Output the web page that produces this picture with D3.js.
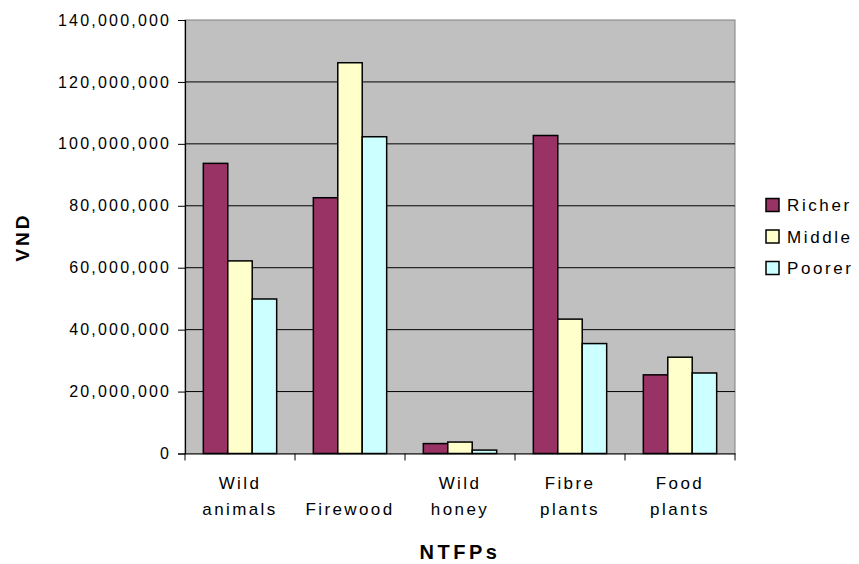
<!DOCTYPE html>
<html><head><meta charset="utf-8">
<script src="https://cdn.jsdelivr.net/npm/d3@7"></script>
<style>
html,body{margin:0;padding:0;background:#fff;}
svg{display:block;font-family:"Liberation Sans",Arial,sans-serif;}
</style></head>
<body><svg id="chart" width="859" height="564"></svg>
<script>
const categories = [["Wild","animals"],["Firewood"],["Wild","honey"],["Fibre","plants"],["Food","plants"]];
const seriesNames = ["Richer","Middle","Poorer"];
const richer = [93700000, 82600000, 3200000, 102700000, 25400000];
const middle = [62200000, 126200000, 3700000, 43400000, 31100000];
const poorer = [49900000, 102300000, 1100000, 35500000, 26000000];
const yTicks = [0,20000000,40000000,60000000,80000000,100000000,120000000,140000000];
const colors = ["#993366","#FFFFCC","#CCFFFF"];

(function(){
const values = [richer, middle, poorer];
const svg = d3.select("#chart");
const pL = 185, pR = 735, pT = 20, pB = 453.5;
const catKeys = categories.map(c => c.join(" "));

const x = d3.scaleBand().domain(catKeys).range([pL, pR]).padding(0);
const bw = x.bandwidth();
const xs = d3.scaleBand().domain(seriesNames).range([bw/6, bw*5/6]).padding(0);
const y = d3.scaleLinear().domain([0, 140000000]).range([pB, pT]);

// plot area
svg.append("rect").attr("x", pL).attr("y", pT).attr("width", pR-pL).attr("height", pB-pT)
  .attr("fill", "#C0C0C0").attr("stroke", "#808080").attr("stroke-width", 1);

// gridlines
svg.append("g").selectAll("line").data(yTicks.filter(t => t > 0 && t < 140000000)).join("line")
  .attr("x1", pL).attr("x2", pR).attr("y1", d => y(d)).attr("y2", d => y(d))
  .attr("stroke", "#000").attr("stroke-width", 1);

// bars
const g = svg.append("g");
seriesNames.forEach((s, si) => {
  g.append("g").selectAll("rect").data(values[si]).join("rect")
    .attr("x", (d, i) => x(catKeys[i]) + xs(s))
    .attr("y", d => y(d))
    .attr("width", xs.bandwidth())
    .attr("height", d => y(0) - y(d))
    .attr("fill", colors[si]).attr("stroke", "#000").attr("stroke-width", 1.5);
});

// y axis
const yAxis = d3.axisLeft(y).tickValues(yTicks).tickFormat(d3.format(",")).tickSize(7).tickPadding(9);
const ya = svg.append("g").attr("transform", `translate(${pL},0)`).call(yAxis);
ya.select(".domain").attr("stroke", "#000").attr("stroke-width", 1.2);
ya.selectAll(".tick line").attr("stroke", "#000");
ya.selectAll(".tick text").attr("font-size", "16px").attr("fill", "#000")
  .attr("font-family", "Liberation Sans, Arial, sans-serif").style("letter-spacing", "2.2px").attr("dx", "2.2px");

// x axis
const xAxis = d3.axisBottom(x).tickValues([]).tickSizeOuter(0);
const xa = svg.append("g").attr("transform", `translate(0,${pB})`).call(xAxis);
xa.select(".domain").attr("stroke", "#000").attr("stroke-width", 1.2);
const boundaries = catKeys.map(k => x(k)).concat([pR]);
xa.selectAll("line.b").data(boundaries).join("line").attr("class","b")
  .attr("x1", d => d).attr("x2", d => d).attr("y1", 0).attr("y2", 7).attr("stroke", "#000");

// category labels
const cl = svg.append("g").attr("font-size", "17px").attr("fill", "#000").attr("text-anchor", "middle");
categories.forEach((lines, i) => {
  const cx = x(catKeys[i]) + bw/2;
  const t = cl.append("text").attr("x", cx).attr("y", 489).style("letter-spacing", "2.4px");
  lines.forEach((ln, j) => {
    t.append("tspan").attr("x", cx).attr("dy", j === 0 ? (lines.length === 1 ? 26 : 0) : 26).text(ln);
  });
});

// axis titles
svg.append("text").attr("transform", "translate(29,237) rotate(-90)").attr("text-anchor", "middle")
  .attr("font-size", "19px").attr("font-weight", "bold").style("letter-spacing", "3px").text("VND");
svg.append("text").attr("x", 460).attr("y", 559).attr("text-anchor", "middle")
  .attr("font-size", "20px").attr("font-weight", "bold").style("letter-spacing", "3.5px").text("NTFPs");

// legend
const lg = svg.append("g");
seriesNames.forEach((s, i) => {
  const ly = 205 + i * 31.5;
  lg.append("rect").attr("x", 766).attr("y", ly - 6.5).attr("width", 13).attr("height", 13)
    .attr("fill", colors[i]).attr("stroke", "#000").attr("stroke-width", 1.5);
  lg.append("text").attr("x", 787).attr("y", ly + 6).attr("font-size", "17px")
    .style("letter-spacing", "2.6px").text(s);
});
})();
</script></body></html>
